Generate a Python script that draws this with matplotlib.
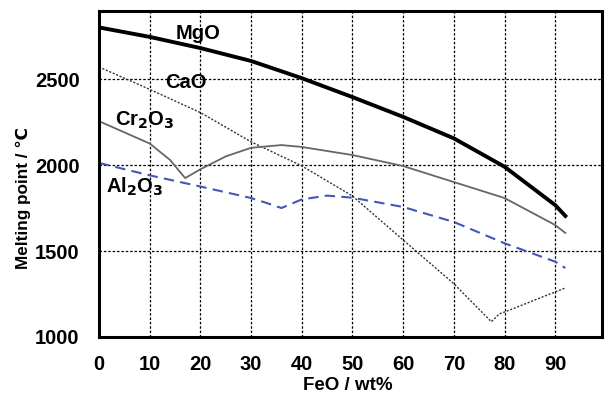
import numpy as np
import matplotlib
matplotlib.use('Agg')
from matplotlib import pyplot as plt

# FeO content (wt%) and melting points
mgo_x = [0, 10, 20, 30, 40, 50, 60, 70, 80, 90, 92]
mgo_y = [2800, 2745, 2680, 2605, 2505, 2395, 2280, 2155, 1990, 1767, 1704]

cao_x = [0, 10, 20, 30, 40, 50, 55, 60, 70, 77.4, 79, 80, 90, 92]
cao_y = [2570, 2440, 2305, 2135, 1995, 1820, 1692, 1564, 1310, 1089, 1135, 1145, 1262, 1285]

cr2o3_x = [0, 10, 14, 17, 20, 25, 30, 36, 40, 50, 60, 70, 80, 90, 92]
cr2o3_y = [2255, 2125, 2030, 1924, 1975, 2050, 2100, 2116, 2105, 2058, 1994, 1901, 1808, 1651, 1605]

al2o3_x = [0, 10, 20, 30, 33, 36, 38, 40, 45, 50, 60, 70, 80, 90, 92]
al2o3_y = [2012, 1940, 1875, 1808, 1780, 1750, 1775, 1800, 1822, 1810, 1756, 1669, 1545, 1438, 1401]

x_ticks = [0, 10, 20, 30, 40, 50, 60, 70, 80, 90]
y_ticks = [1000, 1500, 2000, 2500]

plt.rcParams['font.family'] = ['Liberation Sans', 'DejaVu Sans']
plt.rcParams['font.weight'] = 'bold'

fig = plt.figure(figsize=(6.11, 3.96), dpi=100)
ax = fig.add_axes([0.162, 0.149, 0.823, 0.823])

# curves
ax.plot(mgo_x, mgo_y, color='black', lw=2.8)
ax.plot(cao_x, cao_y, color='#333333', lw=1.0, ls=(0, (1.5, 1.2)))
ax.plot(cr2o3_x, cr2o3_y, color='#666666', lw=1.3)
ax.plot(al2o3_x, al2o3_y, color='#4455bb', lw=1.5, ls=(0, (5, 3)))

# labels on curves
lab_kw = dict(fontsize=14.5, fontweight='bold', ha='center', va='center')
ax.text(19.5, 2767, 'MgO', **lab_kw)
ax.text(17.2, 2477, 'CaO', **lab_kw)
ax.text(9.1, 2262, r'Cr$_\mathbf{2}$O$_\mathbf{3}$', **lab_kw)
ax.text(7.1, 1872, r'Al$_\mathbf{2}$O$_\mathbf{3}$', **lab_kw)

ax.set_xlim(0, 99.2)
ax.set_ylim(1000, 2895)
ax.set_xticks(x_ticks)
ax.set_yticks(y_ticks)
ax.tick_params(length=0, labelsize=14.5)
ax.tick_params(axis='x', pad=13)
ax.tick_params(axis='y', pad=14)
for lab in ax.get_xticklabels() + ax.get_yticklabels():
    lab.set_fontweight('bold')

ax.grid(True, color='black', ls=(0, (2, 1.5)), lw=0.9)
for sp in ax.spines.values():
    sp.set_linewidth(2.2)

ax.set_xlabel('FeO / wt%', fontsize=13.5, fontweight='bold')
ax.xaxis.set_label_coords(0.494, -0.124)
ax.set_ylabel('Melting point / ℃', fontsize=12.3, fontweight='bold')
ax.yaxis.set_label_coords(-0.135, 0.426)

plt.savefig('out.png', dpi=100)
plt.close()
